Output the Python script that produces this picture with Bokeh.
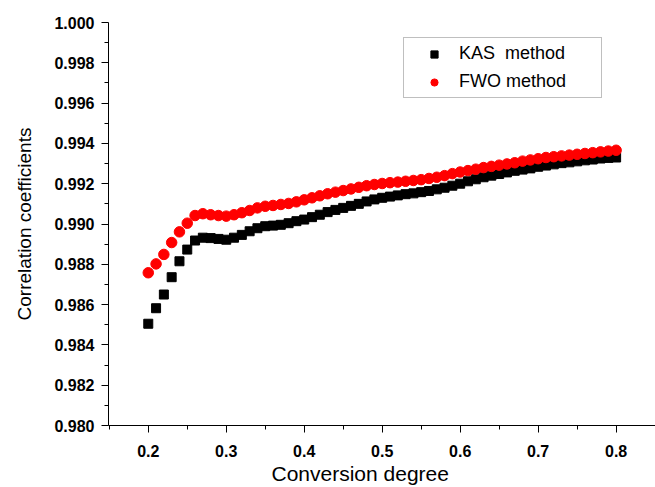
from bokeh.plotting import figure
from bokeh.models import Legend, LegendItem, Range1d, FixedTicker, CustomJSTickFormatter, Title
from bokeh.embed import file_html
from bokeh.resources import INLINE

conversion = [round(0.20 + 0.01 * i, 2) for i in range(61)]

kas = [0.98505, 0.98582, 0.98650, 0.98736, 0.98815, 0.98873, 0.98918, 0.98932, 0.98930, 0.98926,
       0.98922, 0.98932, 0.98946, 0.98964, 0.98979, 0.98989, 0.98992, 0.98996, 0.99004, 0.99014,
       0.99022, 0.99034, 0.99046, 0.99059, 0.99070, 0.99080, 0.99090, 0.99100, 0.99112, 0.99122,
       0.99130, 0.99136, 0.99142, 0.99148, 0.99152, 0.99158, 0.99164, 0.99172, 0.99180, 0.99190,
       0.99200, 0.99212, 0.99222, 0.99232, 0.99240, 0.99248, 0.99256, 0.99264, 0.99270, 0.99276,
       0.99284, 0.99290, 0.99296, 0.99302, 0.99306, 0.99311, 0.99316, 0.99320, 0.99325, 0.99328,
       0.99330]

fwo = [0.98758, 0.98802, 0.98849, 0.98908, 0.98961, 0.99004, 0.99042, 0.99051, 0.99046, 0.99042,
       0.99039, 0.99046, 0.99056, 0.99067, 0.99080, 0.99088, 0.99092, 0.99097, 0.99102, 0.99110,
       0.99120, 0.99130, 0.99140, 0.99150, 0.99158, 0.99166, 0.99174, 0.99182, 0.99190, 0.99196,
       0.99201, 0.99205, 0.99208, 0.99212, 0.99216, 0.99220, 0.99226, 0.99232, 0.99240, 0.99250,
       0.99258, 0.99265, 0.99272, 0.99280, 0.99286, 0.99292, 0.99298, 0.99304, 0.99312, 0.99318,
       0.99324, 0.99330, 0.99334, 0.99338, 0.99342, 0.99346, 0.99350, 0.99354, 0.99358, 0.99362,
       0.99366]

x_ticks = [0.2, 0.3, 0.4, 0.5, 0.6, 0.7, 0.8]
x_minor = [0.15, 0.25, 0.35, 0.45, 0.55, 0.65, 0.75, 0.85]
y_ticks = [0.980, 0.982, 0.984, 0.986, 0.988, 0.990, 0.992, 0.994, 0.996, 0.998, 1.000]
y_minor = [0.981, 0.983, 0.985, 0.987, 0.989, 0.991, 0.993, 0.995, 0.997, 0.999]

x_title = "Conversion degree"
y_title = "Correlation coefficients"

FONT = "Liberation Sans"

p = figure(width=655, height=487, output_backend="svg", toolbar_location=None,
           x_range=Range1d(0.149, 0.8505), y_range=Range1d(0.980, 1.000))
p.min_border_left = 108
p.min_border_right = 0
p.min_border_top = 22
p.min_border_bottom = 62
p.outline_line_color = None
p.xgrid.visible = False
p.ygrid.visible = False
p.background_fill_color = "white"
p.border_fill_color = "white"

ks = p.scatter(conversion, kas, marker="square", size=9, color="black")
fw = p.scatter(conversion, fwo, marker="circle", size=10.5, color="red")

p.xaxis.ticker = FixedTicker(ticks=x_ticks, minor_ticks=x_minor)
p.yaxis.ticker = FixedTicker(ticks=y_ticks, minor_ticks=y_minor)
p.xaxis.formatter = CustomJSTickFormatter(code="return tick.toFixed(1);")
p.yaxis.formatter = CustomJSTickFormatter(code="return tick.toFixed(3);")

for ax in (p.xaxis[0], p.yaxis[0]):
    ax.axis_line_color = "black"
    ax.axis_line_width = 1
    ax.major_tick_in = 0
    ax.major_tick_out = 7
    ax.minor_tick_in = 0
    ax.minor_tick_out = 4
    ax.major_tick_line_color = "black"
    ax.minor_tick_line_color = "black"
    ax.major_label_text_font = FONT
    ax.major_label_text_font_style = "bold"
    ax.major_label_text_font_size = "16px"
    ax.major_label_text_color = "black"
    ax.axis_label_text_font = FONT
    ax.axis_label_text_font_style = "normal"
    ax.axis_label_text_font_size = "19px"
    ax.axis_label_text_color = "black"

p.yaxis.axis_label = y_title
p.xaxis.major_label_standoff = 12
p.yaxis.major_label_standoff = 7
p.yaxis.axis_label_standoff = 16

# x-axis title below the axis, left-offset as in the original
xlabel = Title(text=x_title, align="left", offset=163,
               text_font=FONT, text_font_size="21px", text_font_style="normal",
               text_color="black", standoff=1)
p.add_layout(xlabel, "below")

legend = Legend(items=[LegendItem(label="KAS  method", renderers=[ks]),
                       LegendItem(label="FWO method", renderers=[fw])],
                location=(295, 327))
legend.border_line_color = "#808080"
legend.border_line_width = 1
legend.label_text_font = FONT
legend.label_text_font_size = "18px"
legend.label_text_color = "black"
legend.padding = 5
legend.margin = 0
legend.spacing = 7
legend.glyph_width = 50
legend.glyph_height = 18
legend.label_height = 18
legend.label_standoff = 0
legend.label_width = 137
legend.background_fill_alpha = 1
p.add_layout(legend)

open("out.html", "w").write(file_html(p, INLINE))
